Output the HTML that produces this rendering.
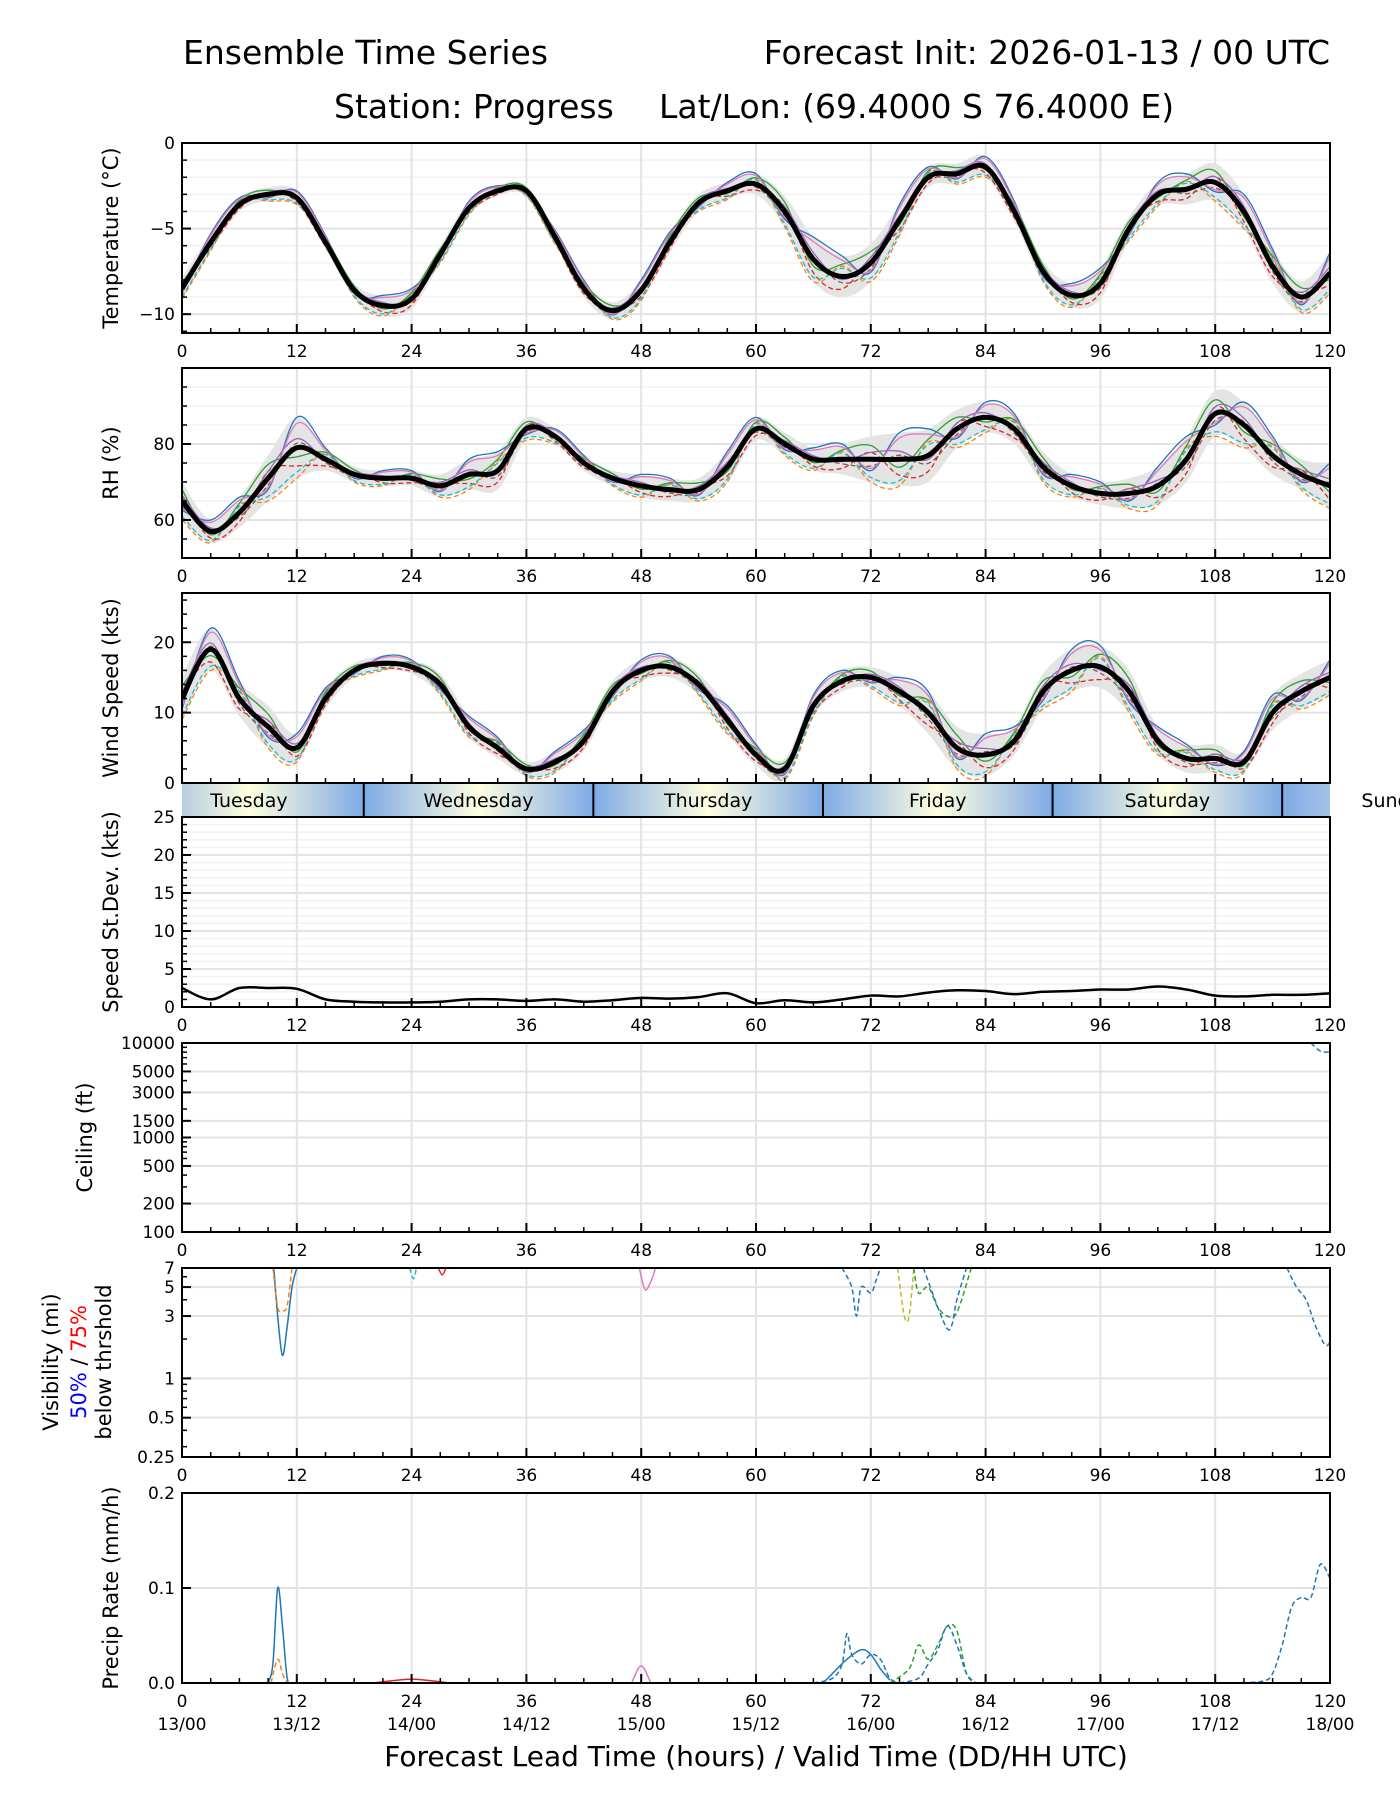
<!DOCTYPE html>
<html><head><meta charset="utf-8"><title>Ensemble Time Series</title>
<style>
html,body{margin:0;padding:0;background:#fff;}
svg{display:block;font-family:"DejaVu Sans","Liberation Sans",sans-serif;}
</style></head>
<body>
<svg id="fig" width="1400" height="1800" viewBox="0 0 1400 1800" xmlns="http://www.w3.org/2000/svg">
<defs>
<linearGradient id="dayGrad" gradientUnits="userSpaceOnUse" x1="182" y1="0" x2="1330" y2="0">
<stop offset="0" stop-color="#b7cde2"/>
<stop offset="0.0583" stop-color="#ffffe0"/>
<stop offset="0.1583" stop-color="#7eaae6"/>
<stop offset="0.2583" stop-color="#ffffe0"/>
<stop offset="0.3583" stop-color="#7eaae6"/>
<stop offset="0.4583" stop-color="#ffffe0"/>
<stop offset="0.5583" stop-color="#7eaae6"/>
<stop offset="0.6583" stop-color="#ffffe0"/>
<stop offset="0.7583" stop-color="#7eaae6"/>
<stop offset="0.8583" stop-color="#ffffe0"/>
<stop offset="0.9583" stop-color="#7eaae6"/>
<stop offset="1" stop-color="#a5c2e8"/>
</linearGradient>
</defs>
<text x="183" y="64" font-size="33">Ensemble Time Series</text>
<text x="1330" y="64" font-size="33" text-anchor="end">Forecast Init: 2026-01-13 / 00 UTC</text>
<text x="334" y="118" font-size="33">Station: Progress</text>
<text x="659" y="118" font-size="33">Lat/Lon: (69.4000 S 76.4000 E)</text>
<g id="plots"></g>
</svg>
<script>
// ---- data (3-hourly, hours 0..120) ----
const hours = [0,3,6,9,12,15,18,21,24,27,30,33,36,39,42,45,48,51,54,57,60,63,66,69,72,75,78,81,84,87,90,93,96,99,102,105,108,111,114,117,120];
const tempMean = [-8.5,-5.8,-3.6,-3.0,-3.2,-5.8,-8.6,-9.5,-9.1,-6.5,-3.8,-2.8,-2.8,-5.5,-8.5,-9.8,-8.6,-5.8,-3.5,-2.8,-2.4,-4.0,-6.8,-7.8,-7.0,-4.5,-2.0,-1.8,-1.4,-4.0,-7.5,-8.9,-8.2,-5.0,-3.0,-2.7,-2.3,-4.0,-7.2,-9.0,-7.6];
const tempSpread = [0.6,0.5,0.4,0.4,0.4,0.4,0.4,0.6,0.6,0.5,0.4,0.3,0.3,0.4,0.5,0.5,0.6,0.6,0.5,0.5,0.6,0.9,1.3,1.2,1.1,0.9,0.6,0.6,0.6,0.6,0.6,0.7,0.9,0.7,0.7,0.9,1.1,1.0,1.0,0.9,1.2];
const rhMean = [65,57,62,71,79,76,72,71,71,69,72,73,84,82,75,71,69,68,68,74,84,80,76,76,76,76,77,84,87,84,74,69,67,67,69,76,88,85,77,72,69];
const rhSpread = [5,3,4,6,8,3,2,2,2,3,4,5,3,2,2,2,3,3,3,4,3,3,3,4,6,7,7,5,4,4,4,3,3,4,5,6,6,6,5,4,6];
const windMean = [12,19,12,8,5,12,16,17,16.5,14,8,5,2,3,6,13,16,16.5,14,9,4,2,11,14.5,15,13,10,5,4,6,13,16,16.5,13,6,3.5,3.5,3,10,13,15];
const windSpread = [3,3,2.5,3,2,1.5,1,1,1,1.5,1.5,1.5,1,1.5,1.5,1.5,1.5,1.5,1.5,2,1.5,1.5,1.5,1.5,1.5,2,3,3,3,2,2.5,3,3,3,2,2,2,1.5,2.5,2.5,2.5];
const sdMean = [2.5,1.0,2.5,2.5,2.4,1.0,0.7,0.6,0.6,0.7,1.0,1.0,0.8,1.0,0.7,0.9,1.2,1.1,1.3,1.8,0.5,0.9,0.6,1.0,1.5,1.4,1.9,2.2,2.1,1.7,2.0,2.1,2.3,2.3,2.7,2.3,1.5,1.4,1.6,1.6,1.8];
const memberK = [1,-1,0.6,-0.6,0.3,-0.3,0.8,-0.8];
const memberColors = ['#1f77b4','#ff7f0e','#2ca02c','#d62728','#9467bd','#8c564b','#e377c2','#17becf'];
const visHours = [[9.6,10,10.5,11,11.5,12],[9.5,10,10.5,11,11.5],[69,70,70.5,71,72,72.5,73],[74.8,75.5,76,76.5],[76.5,77,78,79,80,81,82.5],[77.5,79,80,80.5,81,82],[115.5,116.5,117.5,118.5,119.5,120],[23.8,24.2,24.5],[26.8,27.2,27.6],[47.8,48.4,49,49.5]];
const visVals = [[7,3,1.5,2.5,5,7],[7,3.5,3.3,3.6,7],[7,5,3,5,4.5,5.5,7],[7,3,3.0,7],[7,4.5,5,3.5,3,3.2,7],[7,3.5,2.4,2.6,4,7],[7,5,4,2.5,1.8,1.9],[7,5.8,7],[7,6.2,7],[7,4.8,5.5,7]];
const visStyle = [['#1f77b4',0],['#ff7f0e',1],['#1f77b4',1],['#bcbd22',1],['#2ca02c',1],['#1f77b4',1],['#1f77b4',1],['#17becf',1],['#d62728',0],['#e377c2',0]];
const prHours = [[9,9.5,10,10.5,11,11.5],[9.3,10,10.5,11],[66,68,69,69.5,70,71,72,73,74,75],[67,68,69.5,71,72,73,74],[74,76,77,78,79,80,81,82,83],[75,77,78,79,80,81,82,83],[110,113,114,115,116,117,118,119,120],[47,48,49],[20,24,28]];
const prVals = [[0,0.02,0.1,0.06,0.005,0],[0,0.025,0.01,0],[0,0.005,0.02,0.052,0.03,0.02,0.03,0.025,0.005,0],[0,0.01,0.025,0.035,0.03,0.015,0.003],[0,0.015,0.04,0.025,0.04,0.06,0.055,0.01,0],[0,0.005,0.02,0.035,0.06,0.04,0.01,0],[0,0.002,0.01,0.04,0.08,0.09,0.09,0.125,0.11],[0,0.018,0],[0,0.004,0]];
const prStyle = [['#1f77b4',0],['#ff7f0e',1],['#1f77b4',1],['#1f77b4',0],['#2ca02c',1],['#1f77b4',1],['#1f77b4',1],['#e377c2',0],['#d62728',0]];
const ceilHours = [118,119,120];
const ceilVals = [10000,8200,8000];
const days = ['Tuesday','Wednesday','Thursday','Friday','Saturday','Sunday'];
const dayCenters = [7,31,55,79,103,127];
const dayBounds = [19,43,67,91,115];
const xTicks = [0,12,24,36,48,60,72,84,96,108,120];
const validLabels = ['13/00','13/12','14/00','14/12','15/00','15/12','16/00','16/12','17/00','17/12','18/00'];

const NS='http://www.w3.org/2000/svg';
const root=document.getElementById('plots');
const L=182,R=1330;
function X(h){return L+h/120*(R-L);}
function mk(tag,attrs,parent){const e=document.createElementNS(NS,tag);for(const k in attrs)e.setAttribute(k,attrs[k]);(parent||root).appendChild(e);return e;}

function makeY(p){
  if(p.log){const a=Math.log10(p.min),b=Math.log10(p.max);return v=>p.top+p.h-(Math.log10(Math.max(v,1e-6))-a)/(b-a)*p.h;}
  return v=>p.top+p.h-(v-p.min)/(p.max-p.min)*p.h;
}
function smoothPath(pts){
  if(pts.length<3)return pts.map((p,i)=>(i?'L':'M')+p[0].toFixed(1)+','+p[1].toFixed(1)).join('');
  let d='M'+pts[0][0].toFixed(1)+','+pts[0][1].toFixed(1);
  for(let i=0;i<pts.length-1;i++){
    const p0=pts[Math.max(0,i-1)],p1=pts[i],p2=pts[i+1],p3=pts[Math.min(pts.length-1,i+2)];
    const c1=[p1[0]+(p2[0]-p0[0])/6,p1[1]+(p2[1]-p0[1])/6];
    const c2=[p2[0]-(p3[0]-p1[0])/6,p2[1]-(p3[1]-p1[1])/6];
    d+='C'+c1[0].toFixed(1)+','+c1[1].toFixed(1)+' '+c2[0].toFixed(1)+','+c2[1].toFixed(1)+' '+p2[0].toFixed(1)+','+p2[1].toFixed(1);
  }
  return d;
}
function panel(p){
  const g=mk('g',{});
  
  
  const Y=makeY(p);p.Y=Y;
  const cid='clip-'+p.name;
  const cp=mk('clipPath',{id:cid},g);mk('rect',{x:L,y:p.top,width:R-L,height:p.h},cp);
  (p.minorGrid||[]).forEach(v=>mk('line',{x1:L,x2:R,y1:Y(v),y2:Y(v),stroke:'#f2f2f2','stroke-width':1.5},g));
  p.major.forEach(v=>mk('line',{x1:L,x2:R,y1:Y(v),y2:Y(v),stroke:'#e3e3e3','stroke-width':2},g));
  xTicks.forEach(h=>mk('line',{x1:X(h),x2:X(h),y1:p.top,y2:p.top+p.h,stroke:'#e3e3e3','stroke-width':2},g));
  p.g=mk('g',{'clip-path':'url(#'+cid+')'},g);
  const bt=p.top+p.h;
  for(let h=0;h<=120;h+=3){const maj=h%12===0;mk('line',{x1:X(h),x2:X(h),y1:bt,y2:bt-(maj?9:5),stroke:'#000','stroke-width':maj?2:1.5},g);}
  (p.minor||[]).forEach(v=>mk('line',{x1:L,x2:L+5,y1:Y(v),y2:Y(v),stroke:'#000','stroke-width':1.5},g));
  p.major.forEach((v,i)=>{mk('line',{x1:L,x2:L+9,y1:Y(v),y2:Y(v),stroke:'#000','stroke-width':2},g);
    const t=mk('text',{x:L-7,y:Y(v)+6,'font-size':17,'text-anchor':'end'},g);t.textContent=p.labels[i];});
  mk('rect',{x:L,y:p.top,width:R-L,height:p.h,fill:'none',stroke:'#000','stroke-width':2},g);
  if(p.xlab!==false){xTicks.forEach(h=>{const t=mk('text',{x:X(h),y:bt+24,'font-size':17,'text-anchor':'middle'},g);t.textContent=String(h);});}
  if(p.ylabel){const cx=p.ylx||118,cy=p.top+p.h/2;const t=mk('text',{x:cx,y:cy,'font-size':21,'text-anchor':'middle',transform:'rotate(-90 '+cx+' '+cy+')'},g);t.textContent=p.ylabel;}
  return p;
}
function line(p,hs,vs,color,width,dash,name){
  const d=smoothPath(hs.map((h,i)=>[X(h),p.Y(vs[i])]));
  const e=mk('path',{d:d,fill:'none',stroke:color,'stroke-width':width,'stroke-linejoin':'round'},p.g);
  if(dash)e.setAttribute('stroke-dasharray','5,3');
  
  
  return e;
}
function ensemble(p,mean,spread,key){
  const up=hours.map((h,i)=>[X(h),p.Y(mean[i]+spread[i])]);
  const lo=hours.map((h,i)=>[X(h),p.Y(mean[i]-spread[i])]).reverse();
  const d=smoothPath(up)+smoothPath(lo).replace('M','L')+'Z';
  const band=mk('path',{d:d,fill:'#e4e4e4'},p.g);
  
  
  memberK.forEach((k,j)=>line(p,hours,mean.map((m,i)=>m+k*spread[i]*((i+j)%3===0?-0.5:1)),memberColors[j],1.3,j%2===1,key+'-member-'+j));
  line(p,hours,mean,'#000',5,false,key+'-ensemble-mean');
}
const rng=(a,b,s)=>{const r=[];for(let v=a;v<=b+1e-9;v+=s)r.push(+v.toFixed(4));return r;};

const pT=panel({name:'temperature-panel',top:143,h:190,min:-11.1,max:0,major:[0,-5,-10],labels:['0','\u22125','\u221210'],minor:rng(-11,0,1),minorGrid:rng(-11,0,1),ylabel:'Temperature (\u00b0C)'});
ensemble(pT,tempMean,tempSpread,'temperature');
const pR=panel({name:'rh-panel',top:368,h:190,min:50,max:100,major:[60,80],labels:['60','80'],minor:rng(50,100,5),minorGrid:rng(50,100,5),ylabel:'RH (%)'});
ensemble(pR,rhMean,rhSpread,'rh');
const pW=panel({name:'wind-speed-panel',top:593,h:190,min:0,max:27,major:[0,10,20],labels:['0','10','20'],minor:rng(0,26,2),ylabel:'Wind Speed (kts)',xlab:false});
ensemble(pW,windMean,windSpread,'wind');

const band=mk('g',{});


mk('rect',{x:L,y:784,width:R-L,height:33,fill:'url(#dayGrad)'},band);
dayBounds.forEach(h=>mk('line',{x1:X(h),x2:X(h),y1:784,y2:817,stroke:'#000','stroke-width':2},band));
days.forEach((d,i)=>{const t=mk('text',{x:X(dayCenters[i]),y:807,'font-size':19,'text-anchor':'middle'},band);t.textContent=d;
  
  });

const pS=panel({name:'speed-stdev-panel',top:817,h:190,min:0,max:25,major:[0,5,10,15,20,25],labels:['0','5','10','15','20','25'],minor:rng(0,25,1),minorGrid:rng(0,25,1),ylabel:'Speed St.Dev. (kts)'});
line(pS,hours,sdMean,'#000',2.5,false,'speed-stdev-line');

const ceilT=[100,200,500,1000,1500,3000,5000,10000];
const pC=panel({name:'ceiling-panel',top:1043,h:189,min:100,max:10000,log:true,major:ceilT,labels:ceilT.map(String),minor:[300,400,600,700,800,900,2000,4000,6000,7000,8000,9000],ylabel:'Ceiling (ft)',ylx:92});
line(pC,ceilHours,ceilVals,'#1f77b4',1.5,true,'ceiling-member');

const visT=[0.25,0.5,1,3,5,7];
const pV=panel({name:'visibility-panel',top:1268,h:189,min:0.25,max:7,log:true,major:visT,labels:['0.25','0.5','1','3','5','7'],minor:[0.3,0.4,0.6,0.7,0.8,0.9,2,4,6],ylabel:null});
visHours.forEach((hs,i)=>line(pV,hs,visVals[i],visStyle[i][0],1.5,visStyle[i][1]===1,'visibility-member-'+i));
(function(){const cy=1268+94;
 const t1=mk('text',{x:58,y:cy,'font-size':21,'text-anchor':'middle',transform:'rotate(-90 58 '+cy+')'});t1.textContent='Visibility (mi)';
 
 const t2=mk('text',{x:86,y:cy,'font-size':21,'text-anchor':'middle',transform:'rotate(-90 86 '+cy+')'});
 const a=mk('tspan',{fill:'#0000ff'},t2);a.textContent='50%';const b=mk('tspan',{},t2);b.textContent='\u00a0/\u00a0';const c=mk('tspan',{fill:'#ff0000'},t2);c.textContent='75%';
 
 const t3=mk('text',{x:111,y:cy,'font-size':21,'text-anchor':'middle',transform:'rotate(-90 111 '+cy+')'});t3.textContent='below thrshold';
 })();

const pP=panel({name:'precip-panel',top:1493,h:190,min:0,max:0.2,major:[0,0.1,0.2],labels:['0.0','0.1','0.2'],minor:[],ylabel:'Precip Rate (mm/h)'});
prHours.forEach((hs,i)=>line(pP,hs,prVals[i],prStyle[i][0],1.5,prStyle[i][1]===1,'precip-member-'+i));
validLabels.forEach((s,i)=>{const t=mk('text',{x:X(xTicks[i]),y:1730,'font-size':17,'text-anchor':'middle'});t.textContent=s;
 });
const xl=mk('text',{x:756,y:1766,'font-size':28,'text-anchor':'middle'});xl.textContent='Forecast Lead Time (hours) / Valid Time (DD/HH UTC)';


</script>
</body></html>
